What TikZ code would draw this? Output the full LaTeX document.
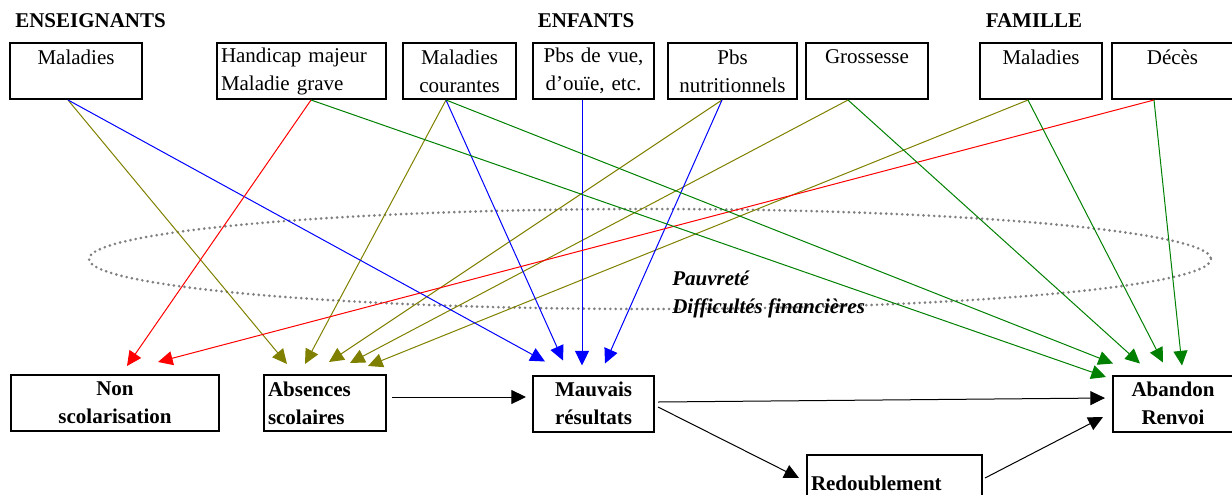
\documentclass[tikz,border=0pt]{standalone}
\usepackage{fontspec}
\setmainfont{Liberation Serif}
\usetikzlibrary{arrows.meta,calc}
\definecolor{olivatre}{RGB}{128,128,0}
\definecolor{vertfonce}{RGB}{0,128,0}
\newcommand{\corps}{\fontsize{15.75}{21}\selectfont}
\tikzset{
  boite/.style={draw,line width=1.5pt,inner xsep=3pt,inner ysep=0pt,minimum height=42pt,align=center,font=\corps},
  gras/.style={font=\corps\bfseries},
  titre/.style={font=\corps\bfseries,inner sep=0pt},
  fl/.style={line width=0.75pt,-{Triangle[length=11pt,width=10.5pt]}},
}
\begin{document}
\begin{tikzpicture}[x=0.75pt,y=-0.75pt]
\useasboundingbox (0,0) rectangle (1232,494);
\node[titre,anchor=west] (tens) at (15,21) {ENSEIGNANTS};
\node[titre] (tenf) at (586,21) {ENFANTS};
\node[titre] (tfam) at (1034,21) {FAMILLE};
\node[boite,text width=93pt] (ensmal) at (76,71) {Maladies\\~};
\node[boite,text width=120.75pt,align=left] (handi) at (301.5,71) {Handicap majeur\\Maladie grave};
\node[boite,text width=78.75pt] (malcour) at (459.5,71) {Maladies\\courantes};
\node[boite,text width=84.75pt] (pbsvue) at (593.5,71) {Pbs de vue,\\d'ouïe, etc.};
\node[boite,text width=90.75pt] (pbsnut) at (732.5,71) {Pbs\\nutritionnels};
\node[boite,text width=85.5pt] (gros) at (867,71) {Grossesse\\~};
\node[boite,text width=85.5pt] (fammal) at (1041,71) {Maladies\\~};
\node[boite,text width=84.75pt] (deces) at (1172.5,71) {Décès\\~};
\draw[gray,line width=2.2pt,line cap=round,dash pattern=on 0pt off 4pt] (650,259) ellipse [x radius=561,y radius=50];
\node[anchor=west,align=left,inner sep=0pt,font=\corps\bfseries\itshape] (pauv) at (672,294) {Pauvreté\\Difficultés financières};
\node[boite,gras,text width=150pt] (nonsc) at (115,403) {Non\\scolarisation};
\node[boite,gras,text width=85.5pt,align=left] (abs) at (325,403) {Absences\\scolaires};
\node[boite,gras,text width=84.75pt] (mauv) at (593.5,403.5) {Mauvais\\résultats};
\node[boite,gras,text width=84pt] (aban) at (1173,403.5) {Abandon\\Renvoi};
\node[boite,gras,text width=125.25pt,align=left] (redoub) at (894.5,483) {Redoublement};
\draw[fl,olivatre] ($(ensmal.south)+(-8,0)$) -- ($(abs.north)+(-38,-10)$);
\draw[fl,olivatre] ($(malcour.south)+(-13.5,0)$) -- ($(abs.north)+(-20,-10)$);
\draw[fl,olivatre] ($(pbsnut.south)+(-10.5,0)$) -- ($(abs.north)+(4,-12)$);
\draw[fl,olivatre] ($(gros.south)+(-19,0)$) -- ($(abs.north)+(25,-11)$);
\draw[fl,olivatre] ($(fammal.south)+(-13,0)$) -- ($(abs.north)+(43,-8)$);
\draw[fl,blue] ($(ensmal.south)+(-8,0)$) -- ($(mauv.north)+(-48.5,-13)$);
\draw[fl,blue] ($(malcour.south)+(-13.5,0)$) -- ($(mauv.north)+(-30.5,-14)$);
\draw[fl,blue] ($(pbsvue.south)+(-11.5,0)$) -- ($(mauv.north)+(-11.5,-9)$);
\draw[fl,blue] ($(pbsnut.south)+(-10.5,0)$) -- ($(mauv.north)+(11.5,-11)$);
\draw[fl,red] ($(handi.south)+(9.5,0)$) -- ($(nonsc.north)+(12,-8)$);
\draw[fl,red] ($(deces.south)+(-18.5,0)$) -- ($(nonsc.north)+(43,-12)$);
\draw[fl,vertfonce] ($(handi.south)+(9.5,0)$) -- ($(aban.west)+(-6,-26.5)$);
\draw[fl,vertfonce] ($(malcour.south)+(-13.5,0)$) -- ($(aban.north)+(-60,-11)$);
\draw[fl,vertfonce] ($(gros.south)+(-19,0)$) -- ($(aban.north)+(-33,-11)$);
\draw[fl,vertfonce] ($(fammal.south)+(-13,0)$) -- ($(aban.north)+(-10,-12)$);
\draw[fl,vertfonce] ($(deces.south)+(-18.5,0)$) -- ($(aban.north)+(9,-9)$);
\draw[fl] ($(abs.east)+(5,-6)$) -- ($(mauv.west)+(-6,-6.5)$);
\draw[fl] ($(mauv.east)+(3,-1.5)$) -- ($(aban.west)+(-7,-5.5)$);
\draw[fl] ($(mauv.east)+(3,3.5)$) -- ($(redoub.west)+(-7,-5)$);
\draw[fl] ($(redoub.east)+(2,-5)$) -- ($(aban.west)+(-9,13.5)$);
\end{tikzpicture}
\end{document}
